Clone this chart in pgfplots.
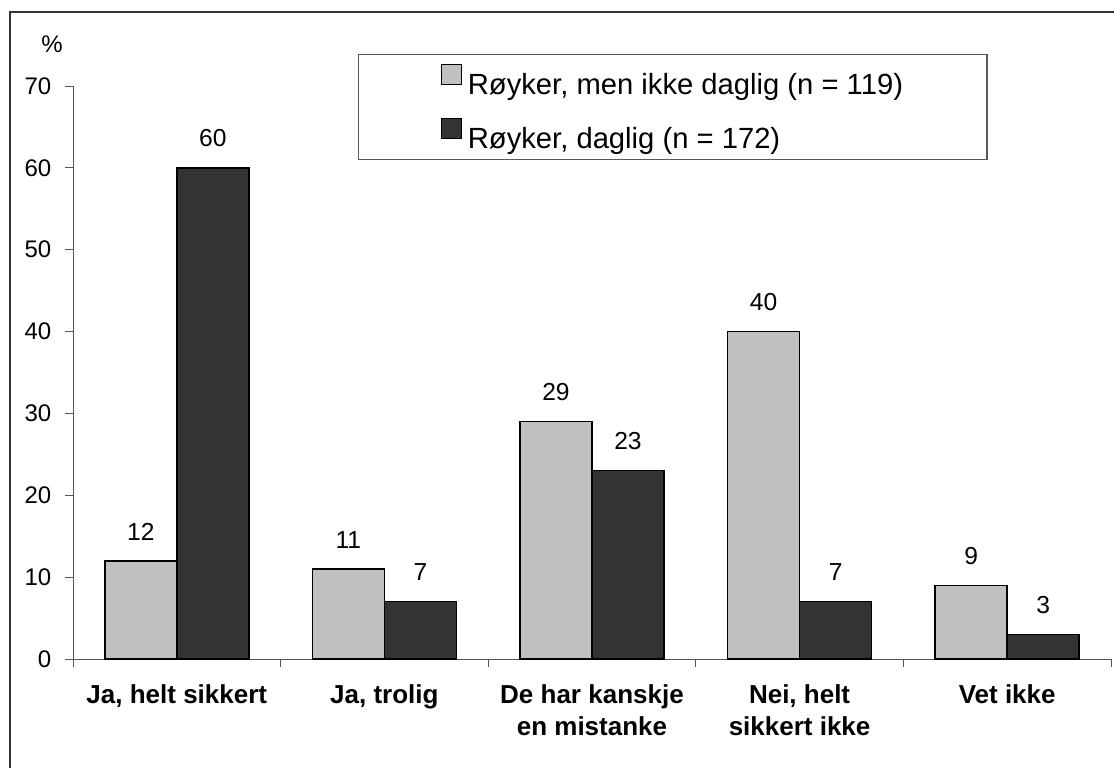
\documentclass[border=0pt]{standalone}
\usepackage{pgfplots}
\pgfplotsset{compat=1.18}
\usepackage{fontspec}
\setmainfont{Liberation Sans}
\definecolor{lightbar}{HTML}{C0C0C0}
\definecolor{darkbar}{HTML}{333333}
\definecolor{axisgray}{HTML}{555555}

\begin{document}
\begin{tikzpicture}
\path[use as bounding box] (0,0) rectangle (557pt,383.5pt);
% outer frame (only top and left are visible in the reference)
\draw[line width=1pt, darkbar] (5pt,-2pt) -- (5pt,377.5pt) -- (560pt,377.5pt);
\begin{axis}[
    at={(36.5pt,54pt)}, anchor=south west,
    scale only axis,
    width=519pt, height=286.5pt,
    ybar=0pt, bar width=36pt,
    xmin=-0.5, xmax=4.5, ymin=0, ymax=70,
    enlargelimits=false,
    clip=false,
    axis lines*=left,
    axis line style={axisgray, line width=0.5pt},
    every tick/.style={axisgray, line width=0.5pt},
    tick align=outside,
    major tick length=3.75pt,
    ytick={0,10,...,70},
    yticklabel style={font=\fontsize{12}{13}\selectfont, xshift=-3.6pt},
    /pgf/number format/assume math mode=true,
    xtick={-0.5,0.5,...,4.5},
    xticklabels={},
    extra x ticks={0,1,2,3,4},
    extra x tick labels={{Ja, helt sikkert},{Ja, trolig},{De har kanskje\\en mistanke},{Nei, helt\\sikkert ikke},{Vet ikke}},
    extra x tick style={major tick length=0pt},
    xticklabel style={font=\fontsize{13}{16}\selectfont\bfseries, align=center, anchor=north, yshift=-9.5pt},
    ylabel={\%},
    every axis y label/.style={at={(axis description cs:0,1)}, anchor=center, xshift=-10.5pt, yshift=21pt, font=\fontsize{12}{13}\selectfont},
    nodes near coords,
    every node near coord/.append style={font=\fontsize{12.3}{13}\selectfont, anchor=south, inner sep=0pt, yshift=10pt},
    legend image code/.code={\draw[#1, draw=black, line width=0.6pt] (0pt,0pt) rectangle (10pt,10pt);},
    legend cell align=left,
    legend style={at={(0.2746,1.0558)}, anchor=north west,
        draw=black!65, line width=0.6pt,
        font=\fontsize{14.6}{17}\selectfont,
        inner xsep=41pt, inner ysep=4.5pt,
        row sep=11pt, column sep=2pt,
        nodes={text height=11pt, text depth=1pt, inner xsep=1pt, inner ysep=0pt}},
]
\addplot[fill=lightbar, draw=black, line width=0.75pt] coordinates {(0,12) (1,11) (2,29) (3,40) (4,9)};
\addlegendentry{Røyker, men ikke daglig (n = 119)}
\addplot[fill=darkbar, draw=black, line width=0.75pt] coordinates {(0,60) (1,7) (2,23) (3,7) (4,3)};
\addlegendentry{Røyker, daglig (n = 172)}
\end{axis}
\end{tikzpicture}
\end{document}
